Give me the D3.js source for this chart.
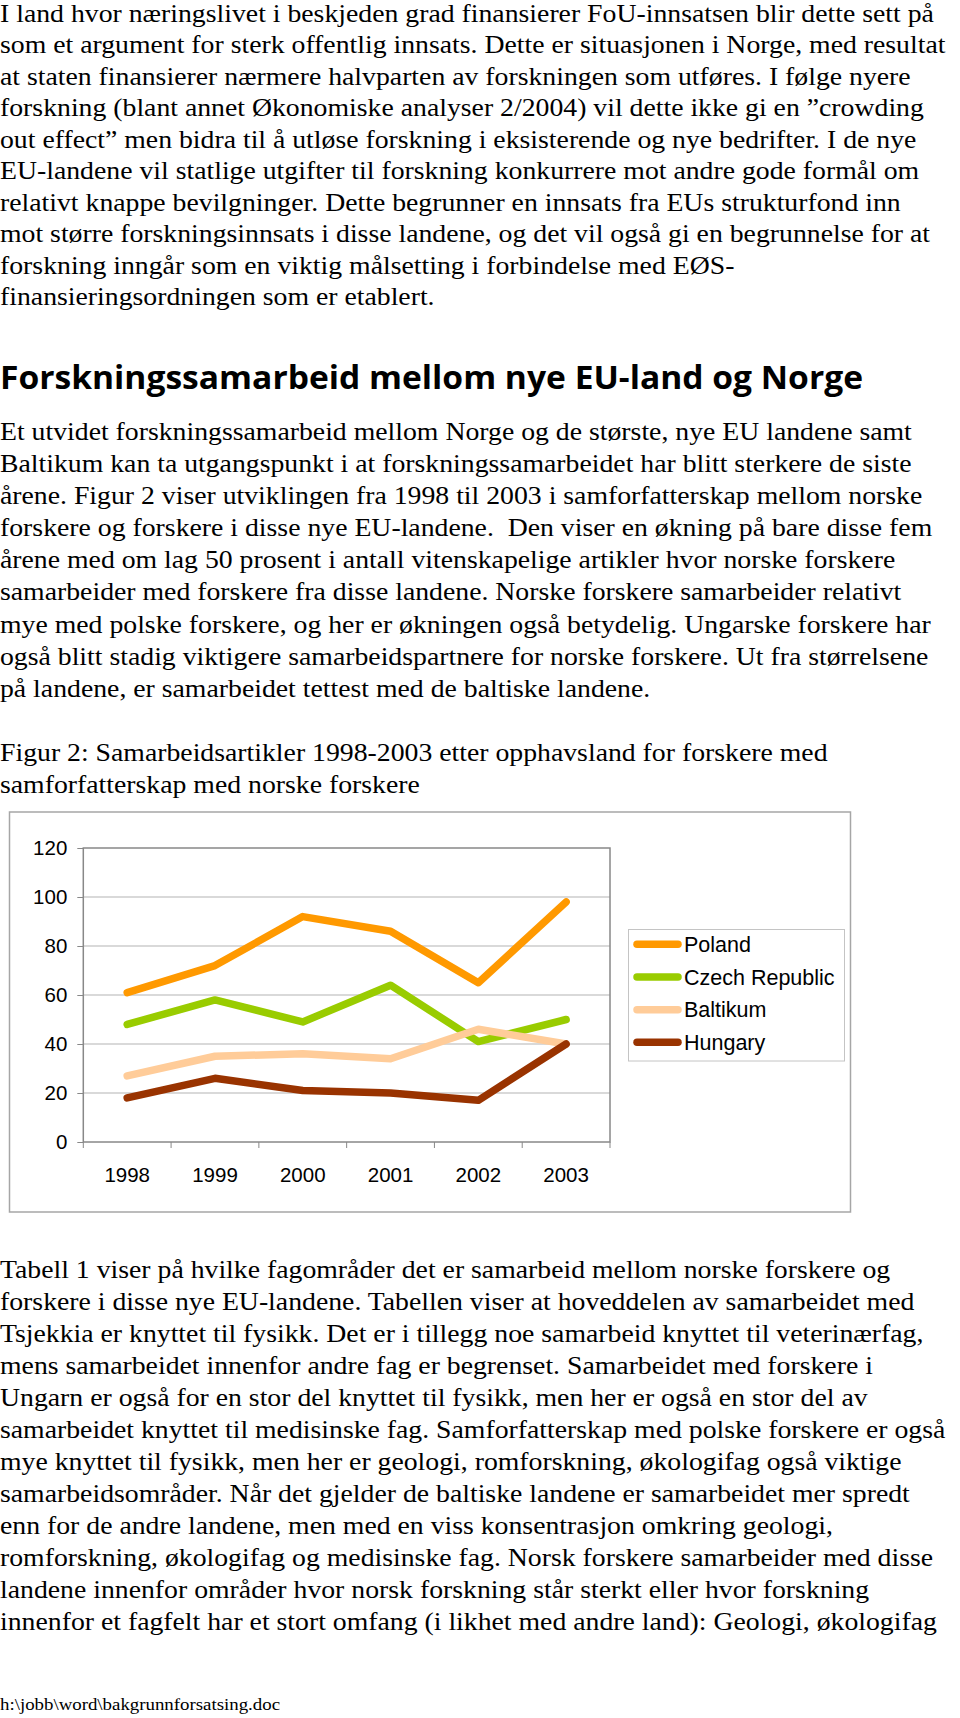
<!DOCTYPE html>
<html>
<head>
<meta charset="utf-8">
<script src="https://cdn.jsdelivr.net/npm/d3@7"></script>
<style>
  body { margin: 0; background: #fff; }
  svg { display: block; }
  .body-text { font-family: "Liberation Serif", "Times New Roman", serif; font-size: 25px; fill: #000; }
  .axis text { font-family: "Liberation Sans", Arial, sans-serif; font-size: 20.5px; fill: #000; }
</style>
</head>
<body>
<div id="page"></div>
<script>
// Text of the page, one entry per printed line
let para1Lines = [
  "I land hvor næringslivet i beskjeden grad finansierer FoU-innsatsen blir dette sett på",
  "som et argument for sterk offentlig innsats. Dette er situasjonen i Norge, med resultat",
  "at staten finansierer nærmere halvparten av forskningen som utføres. I følge nyere",
  "forskning (blant annet Økonomiske analyser 2/2004) vil dette ikke gi en ”crowding",
  "out effect” men bidra til å utløse forskning i eksisterende og nye bedrifter. I de nye",
  "EU-landene vil statlige utgifter til forskning konkurrere mot andre gode formål om",
  "relativt knappe bevilgninger. Dette begrunner en innsats fra EUs strukturfond inn",
  "mot større forskningsinnsats i disse landene, og det vil også gi en begrunnelse for at",
  "forskning inngår som en viktig målsetting i forbindelse med EØS-",
  "finansieringsordningen som er etablert."
];
let headingText = "Forskningssamarbeid mellom nye EU-land og Norge";
let para2Lines = [
  "Et utvidet forskningssamarbeid mellom Norge og de største, nye EU landene samt",
  "Baltikum kan ta utgangspunkt i at forskningssamarbeidet har blitt sterkere de siste",
  "årene. Figur 2 viser utviklingen fra 1998 til 2003 i samforfatterskap mellom norske",
  "forskere og forskere i disse nye EU-landene.  Den viser en økning på bare disse fem",
  "årene med om lag 50 prosent i antall vitenskapelige artikler hvor norske forskere",
  "samarbeider med forskere fra disse landene. Norske forskere samarbeider relativt",
  "mye med polske forskere, og her er økningen også betydelig. Ungarske forskere har",
  "også blitt stadig viktigere samarbeidspartnere for norske forskere. Ut fra størrelsene",
  "på landene, er samarbeidet tettest med de baltiske landene."
];
let captionLines = [
  "Figur 2: Samarbeidsartikler 1998-2003 etter opphavsland for forskere med",
  "samforfatterskap med norske forskere"
];
let para3Lines = [
  "Tabell 1 viser på hvilke fagområder det er samarbeid mellom norske forskere og",
  "forskere i disse nye EU-landene. Tabellen viser at hoveddelen av samarbeidet med",
  "Tsjekkia er knyttet til fysikk. Det er i tillegg noe samarbeid knyttet til veterinærfag,",
  "mens samarbeidet innenfor andre fag er begrenset. Samarbeidet med forskere i",
  "Ungarn er også for en stor del knyttet til fysikk, men her er også en stor del av",
  "samarbeidet knyttet til medisinske fag. Samforfatterskap med polske forskere er også",
  "mye knyttet til fysikk, men her er geologi, romforskning, økologifag også viktige",
  "samarbeidsområder. Når det gjelder de baltiske landene er samarbeidet mer spredt",
  "enn for de andre landene, men med en viss konsentrasjon omkring geologi,",
  "romforskning, økologifag og medisinske fag. Norsk forskere samarbeider med disse",
  "landene innenfor områder hvor norsk forskning står sterkt eller hvor forskning",
  "innenfor et fagfelt har et stort omfang (i likhet med andre land): Geologi, økologifag"
];
let footerText = "h:\\jobb\\word\\bakgrunnforsatsing.doc";

// Chart data
let years = ["1998", "1999", "2000", "2001", "2002", "2003"];
let seriesNames = ["Poland", "Czech Republic", "Baltikum", "Hungary"];
let poland = [61, 72, 92, 86, 65, 98];
let czechRepublic = [48, 58, 49, 64, 41, 50];
let baltikum = [27, 35, 36, 34, 46, 40];
let hungary = [18, 26, 21, 20, 17, 40];
let yTickValues = [0, 20, 40, 60, 80, 100, 120];
let seriesColors = ["#ff9900", "#99cc00", "#ffcc99", "#993300"];

let svgWidth = 960;
let svgHeight = 1718;

let svg = d3.select("#page")
  .append("svg")
  .attr("width", svgWidth)
  .attr("height", svgHeight);

// Body text is set slightly wide, as in the scanned page
let textGroup = svg.append("g")
  .attr("transform", "scale(1.11,1)");

function writeLines(lines, firstBaseline, step) {
  textGroup.append("g")
    .selectAll("text")
    .data(lines)
    .join("text")
    .classed("body-text", true)
    .attr("x", 0)
    .attr("y", (d, i) => firstBaseline + i * step)
    .attr("xml:space", "preserve")
    .style("white-space", "pre")
    .text(d => d);
}

writeLines(para1Lines, 22, 31.5);
writeLines(para2Lines, 440, 32.1);
writeLines(captionLines, 761, 32);
writeLines(para3Lines, 1278, 32);

svg.append("text")
  .attr("x", 0)
  .attr("y", 389)
  .attr("textLength", 863)
  .attr("lengthAdjust", "spacingAndGlyphs")
  .style("font-family", "'Open Sans', 'Noto Sans', sans-serif")
  .style("font-weight", 700)
  .style("font-size", "31.5px")
  .text(headingText);

svg.append("text")
  .attr("x", 0)
  .attr("y", 1710)
  .attr("transform", "scale(1.11,1)")
  .style("font-family", "'Liberation Serif', serif")
  .style("font-size", "17px")
  .text(footerText);

// ---- Chart ----
svg.append("rect")
  .attr("x", 9.5)
  .attr("y", 812)
  .attr("width", 841)
  .attr("height", 400)
  .attr("fill", "none")
  .attr("stroke", "#a6a6a6")
  .attr("stroke-width", 1.5);

let plot = { left: 83.3, right: 610, top: 848, bottom: 1142 };

let xBandScale = d3.scaleBand()
  .domain(years)
  .range([plot.left, plot.right])
  .padding(0);

let yLinearScale = d3.scaleLinear()
  .domain([0, 120])
  .range([plot.bottom, plot.top]);

// Horizontal gridlines
svg.append("g")
  .selectAll("line")
  .data(yTickValues.filter(v => v > 0 && v < 120))
  .join("line")
  .attr("x1", plot.left)
  .attr("x2", plot.right)
  .attr("y1", d => yLinearScale(d))
  .attr("y2", d => yLinearScale(d))
  .attr("stroke", "#b3b3b3")
  .attr("stroke-width", 1);

// Y axis
let leftAxis = d3.axisLeft(yLinearScale)
  .tickValues(yTickValues)
  .tickSize(6)
  .tickPadding(10);

let yAxisGroup = svg.append("g")
  .classed("axis", true)
  .attr("transform", `translate(${plot.left}, 0)`)
  .call(leftAxis);
yAxisGroup.select(".domain").remove();
yAxisGroup.selectAll(".tick line").attr("stroke", "#888");

// X axis labels at band centres
let bottomAxis = d3.axisBottom(xBandScale)
  .tickSize(0)
  .tickPadding(25);

let xAxisGroup = svg.append("g")
  .classed("axis", true)
  .attr("transform", `translate(0, ${plot.bottom})`)
  .call(bottomAxis);
xAxisGroup.select(".domain").remove();

// X tick marks at band boundaries
let boundaries = years.map(y => xBandScale(y)).concat([xBandScale.range()[1]]);
svg.append("g")
  .selectAll("line")
  .data(boundaries)
  .join("line")
  .attr("x1", d => d)
  .attr("x2", d => d)
  .attr("y1", plot.bottom)
  .attr("y2", plot.bottom + 6)
  .attr("stroke", "#888")
  .attr("stroke-width", 1);

// Plot area frame
svg.append("rect")
  .attr("x", plot.left)
  .attr("y", plot.top)
  .attr("width", plot.right - plot.left)
  .attr("height", plot.bottom - plot.top)
  .attr("fill", "none")
  .attr("stroke", "#888")
  .attr("stroke-width", 1.5);

// Lines
let seriesData = [poland, czechRepublic, baltikum, hungary];

let drawLine = d3.line()
  .x((d, i) => xBandScale(years[i]) + xBandScale.bandwidth() / 2)
  .y(d => yLinearScale(d));

svg.append("g")
  .selectAll("path")
  .data(seriesData)
  .join("path")
  .attr("d", d => drawLine(d))
  .attr("fill", "none")
  .attr("stroke", (d, i) => seriesColors[i])
  .attr("stroke-width", 7.5)
  .attr("stroke-linejoin", "round")
  .attr("stroke-linecap", "round");

// Legend
svg.append("rect")
  .attr("x", 628.5)
  .attr("y", 929.5)
  .attr("width", 216)
  .attr("height", 131.5)
  .attr("fill", "none")
  .attr("stroke", "#c4c4c4")
  .attr("stroke-width", 1);

let legendY = d3.scalePoint()
  .domain(seriesNames)
  .range([944.3, 1042.3]);

let legendItems = svg.append("g")
  .selectAll("g")
  .data(seriesNames)
  .join("g")
  .attr("transform", d => `translate(0, ${legendY(d)})`);

legendItems.append("line")
  .attr("x1", 637)
  .attr("x2", 678)
  .attr("stroke", (d, i) => seriesColors[i])
  .attr("stroke-width", 7.5)
  .attr("stroke-linecap", "round");

legendItems.append("text")
  .attr("x", 684)
  .attr("dy", "0.36em")
  .style("font-family", "'Liberation Sans', Arial, sans-serif")
  .style("font-size", "21.5px")
  .text(d => d);
</script>
</body>
</html>
